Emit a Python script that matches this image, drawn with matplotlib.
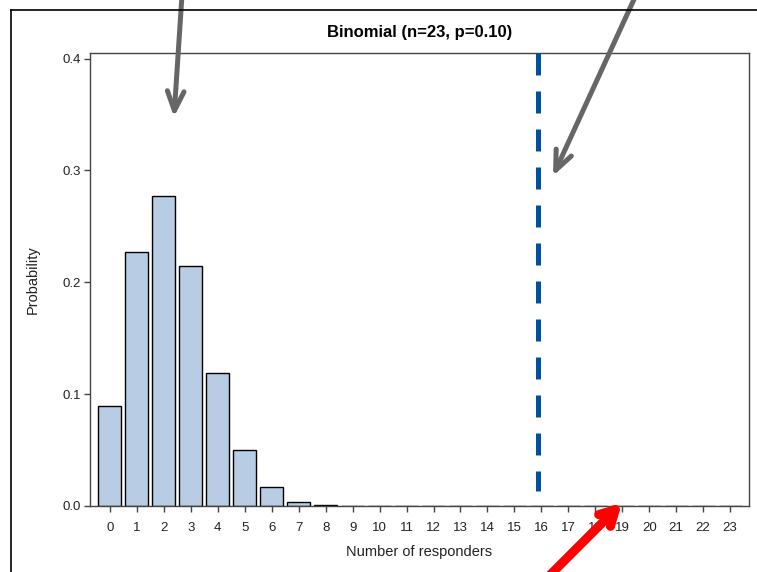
import matplotlib.pyplot as plt
from matplotlib.lines import Line2D

# Binomial(n=23, p=0.10) probabilities
responders = list(range(24))
probability = [0.089, 0.227, 0.277, 0.215, 0.119, 0.050, 0.017, 0.004, 0.001,
               0, 0, 0, 0, 0, 0, 0, 0, 0, 0, 0, 0, 0, 0, 0]
cutoff = 15.86
title = 'Binomial (n=23, p=0.10)'

plt.rcParams['font.family'] = ['Liberation Sans', 'DejaVu Sans']

W, H = 757, 572
fig = plt.figure(figsize=(W / 100, H / 100), dpi=100)
ax = fig.add_axes([90 / W, 1 - 506 / H, 659 / W, 453 / H])

ax.bar(responders, probability, width=0.85, color='#b8cce4',
       edgecolor='black', linewidth=1.0, zorder=2)
ax.plot([cutoff, cutoff], [0.405, 0.0135], color='#0050a0', lw=3.6,
        dashes=(4.4, 3.2), solid_capstyle='butt', zorder=3)

ax.set_xlim(-0.74, 23.7)
ax.set_ylim(0, 0.405)
ax.set_xticks(responders)
ax.set_yticks([0, 0.1, 0.2, 0.3, 0.4])
ax.set_yticklabels(['0.0', '0.1', '0.2', '0.3', '0.4'])
ax.tick_params(length=4.5, width=1, color='#444444', labelsize=9.5,
               labelcolor='#222222')
ax.tick_params(axis='x', pad=7)
ax.tick_params(axis='y', pad=2)
for s in ax.spines.values():
    s.set_color('#444444')
    s.set_linewidth(1)

ax.set_xlabel('Number of responders', fontsize=10.5, color='#222222')
ax.set_ylabel('Probability', fontsize=10.5, color='#222222')
ax.xaxis.set_label_coords(0.5, -0.085)
ax.yaxis.set_label_coords(-0.077, 0.5)
fig.text(420 / W, 1 - 33 / H, title, ha='center', va='center',
         fontsize=12, fontweight='bold')

# outer frame of the cropped screenshot
fig.add_artist(Line2D([11 / W, 11 / W], [0, 1 - 10 / H], transform=fig.transFigure,
                      color='black', lw=1.2))
fig.add_artist(Line2D([11 / W, 1], [1 - 10 / H, 1 - 10 / H], transform=fig.transFigure,
                      color='black', lw=1.2))

# annotation arrows (pixel coords, origin bottom-left)
def arrow(x0, y0, x1, y1, color, lw, hl, hw):
    ax.annotate('', xy=(x1, H - y1), xytext=(x0, H - y0),
                xycoords='figure pixels', textcoords='figure pixels',
                arrowprops=dict(arrowstyle=f'->,head_length={hl},head_width={hw}',
                                color=color, lw=lw, shrinkA=0, shrinkB=0),
                annotation_clip=False)

arrow(182, -5, 174, 117, '#666666', 3.6, 1.4, 0.6)
arrow(636, -5, 553, 176, '#666666', 3.6, 1.4, 0.6)
arrow(545, 580, 622, 503, '#ff0000', 6.5, 1.1, 0.6)

fig.savefig('out.png', dpi=100)
